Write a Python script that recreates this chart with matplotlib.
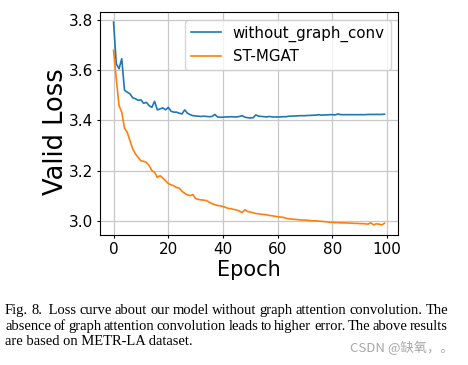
"""Valid loss curves on METR-LA: ST-MGAT vs. the variant without graph conv."""

import matplotlib
matplotlib.use("Agg")
import matplotlib.pyplot as plt

epochs = list(range(100))

without_graph_conv = [
    3.790, 3.625, 3.605, 3.645, 3.520, 3.512, 3.506, 3.490, 3.486, 3.480,
    3.482, 3.468, 3.472, 3.459, 3.452, 3.476, 3.442, 3.446, 3.450, 3.442,
    3.452, 3.437, 3.433, 3.433, 3.429, 3.426, 3.442, 3.429, 3.423, 3.419,
    3.418, 3.417, 3.416, 3.417, 3.416, 3.415, 3.416, 3.424, 3.414, 3.413,
    3.413, 3.414, 3.414, 3.415, 3.414, 3.414, 3.416, 3.419, 3.413, 3.411,
    3.410, 3.411, 3.422, 3.417, 3.416, 3.415, 3.414, 3.416, 3.414, 3.414,
    3.414, 3.414, 3.415, 3.415, 3.417, 3.417, 3.418, 3.418, 3.419, 3.419,
    3.419, 3.420, 3.420, 3.421, 3.421, 3.423, 3.421, 3.422, 3.422, 3.423,
    3.423, 3.422, 3.426, 3.423, 3.423, 3.423, 3.423, 3.423, 3.423, 3.423,
    3.423, 3.423, 3.423, 3.424, 3.424, 3.424, 3.424, 3.424, 3.424, 3.425,
]

st_mgat = [
    3.678, 3.565, 3.459, 3.433, 3.370, 3.353, 3.320, 3.287, 3.267, 3.254,
    3.240, 3.238, 3.234, 3.221, 3.201, 3.194, 3.174, 3.181, 3.172, 3.161,
    3.150, 3.145, 3.141, 3.134, 3.132, 3.119, 3.111, 3.105, 3.102, 3.106,
    3.090, 3.087, 3.085, 3.084, 3.082, 3.076, 3.070, 3.066, 3.063, 3.061,
    3.059, 3.055, 3.051, 3.050, 3.047, 3.045, 3.040, 3.035, 3.046, 3.039,
    3.037, 3.034, 3.031, 3.030, 3.028, 3.027, 3.026, 3.023, 3.022, 3.020,
    3.018, 3.017, 3.016, 3.012, 3.010, 3.009, 3.008, 3.007, 3.006, 3.005,
    3.005, 3.004, 3.003, 3.002, 3.002, 3.001, 3.000, 2.999, 2.998, 2.996,
    2.996, 2.995, 2.995, 2.994, 2.994, 2.994, 2.993, 2.993, 2.992, 2.992,
    2.991, 2.991, 2.990, 2.989, 2.994, 2.986, 2.990, 2.989, 2.986, 2.992,
]

caption_lines = [
    "Fig. 8.  Loss curve about our model without graph attention convolution. The",
    "absence of graph attention convolution leads to higher error. The above results",
    "are based on METR-LA dataset.",
]
watermark = "CSDN @缺氧，。"

W, H = 468, 365
fig = plt.figure(figsize=(W / 100, H / 100), dpi=100)
ax = fig.add_axes([100 / W, 1 - 235 / H, 298 / W, 223 / H])

ax.plot(epochs, without_graph_conv, color="tab:blue", lw=1.2, label="without_graph_conv")
ax.plot(epochs, st_mgat, color="tab:orange", lw=1.2, label="ST-MGAT")
ax.set_xticks([0, 20, 40, 60, 80, 100])
ax.set_yticks([3.0, 3.2, 3.4, 3.6, 3.8])
ax.tick_params(labelsize=11, length=2.5, pad=2.5)
ax.grid(True, color="#c8c8c8", lw=0.9)
ax.set_axisbelow(True)
ax.set_xlabel("Epoch", fontsize=15, labelpad=2)
ax.set_ylabel("Valid Loss", fontsize=18.5)
ax.yaxis.set_label_coords(-0.104, 0.462)
ax.legend(loc="upper right", fontsize=10.8)

# caption, first two lines justified to the same width
renderer = fig.canvas.get_renderer()
x0, x1 = 5 / W, 448 / W
ys = [1 - 314 / H, 1 - 330 / H, 1 - 345 / H]
cap_kw = dict(family="Liberation Serif", fontsize=10.5, va="baseline")
for i, (line, y) in enumerate(zip(caption_lines, ys)):
    if i == len(caption_lines) - 1:
        fig.text(x0, y, line, ha="left", **cap_kw)
        continue
    words = line.replace("  ", " \u00a0").split(" ")
    widths = []
    for w in words:
        t = fig.text(0, 0, w, **cap_kw)
        widths.append(t.get_window_extent(renderer).width / W)
        t.remove()
    gap = (x1 - x0 - sum(widths)) / (len(words) - 1)
    x = x0
    for w, wd in zip(words, widths):
        fig.text(x, y, w, ha="left", **cap_kw)
        x += wd + gap

fig.text(453 / W, 1 - 348 / H, watermark, ha="right", va="center", fontsize=9.5,
         color="#a8a8a8", family=["Noto Sans CJK SC", "DejaVu Sans"])

fig.savefig("out.png", dpi=100)
